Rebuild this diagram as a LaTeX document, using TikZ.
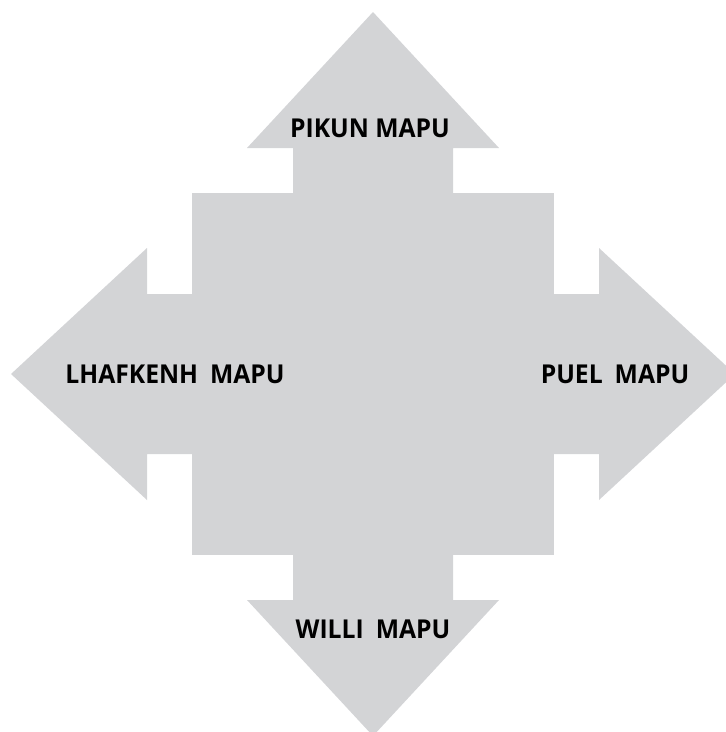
\documentclass[tikz,border=0pt]{standalone}
\usepackage{fontspec}
\setmainfont{Open Sans}
\newfontfamily\mapufont[FakeStretch=0.95]{Open Sans}
\usepackage{tikz}
\usepackage{xcolor}
\definecolor{mapugray}{RGB}{211,212,214}
\newcommand{\mapugap}{\hspace{12pt}}
\tikzset{
  mapufill/.style={fill=mapugray,draw=none},
  mapulabel/.style={font=\mapufont\bfseries\fontsize{26}{30}\selectfont,text=black,inner sep=0pt}
}

\begin{document}
\begin{tikzpicture}[x=1pt,y=-1pt]
\useasboundingbox (0,0) rectangle (726,732);
\fill[mapufill] (192,193) rectangle (554,555);
\fill[mapufill] (293,300)--(293,148)--(247,148)--(373,12)--(499,148)--(453,148)--(453,300)--cycle;
\fill[mapufill] (300,294)--(147,294)--(147,248)--(11,374)--(147,500)--(147,454)--(300,454)--cycle;
\fill[mapufill] (446,294)--(599,294)--(599,248)--(735,374)--(599,500)--(599,454)--(446,454)--cycle;
\fill[mapufill] (293,448)--(293,600)--(247,600)--(373,736)--(499,600)--(453,600)--(453,448)--cycle;
\node[mapulabel] (pikun) at (370,128) {PIKUN MAPU};
\node[mapulabel] (lhafkenh) at (175,374) {LHAFKENH\mapugap MAPU};
\node[mapulabel] (puel) at (615,374) {PUEL\mapugap MAPU};
\node[mapulabel] (willi) at (373,629) {WILLI\mapugap MAPU};
\end{tikzpicture}
\end{document}
